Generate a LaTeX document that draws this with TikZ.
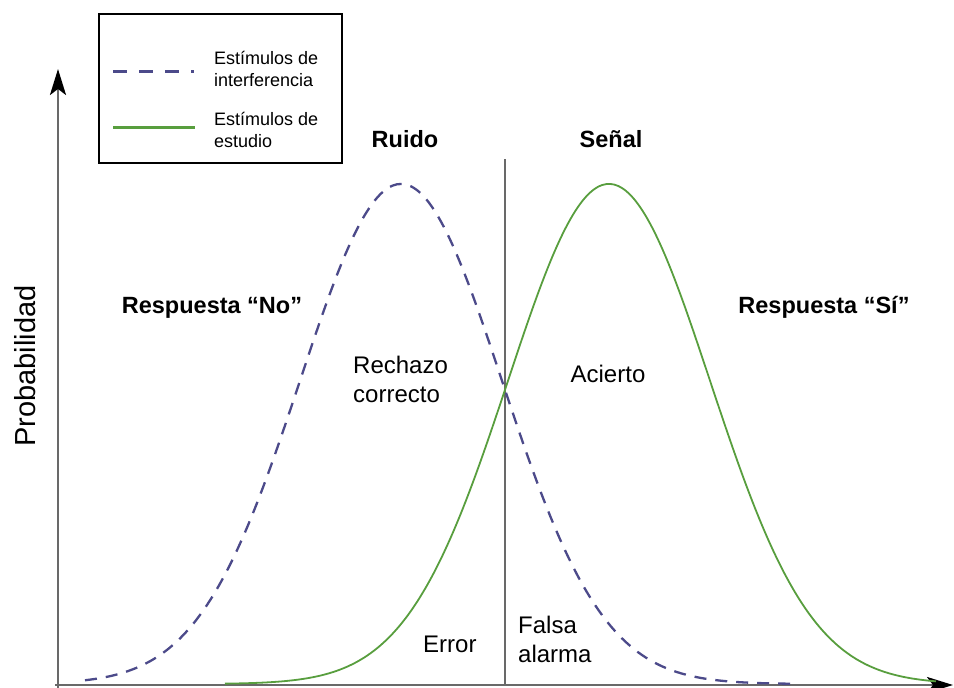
\documentclass[tikz,border=0pt]{standalone}
\usepackage{fontspec}
\setmainfont{Liberation Sans}
\usetikzlibrary{arrows.meta}
\definecolor{noiseblue}{RGB}{76,74,138}
\definecolor{signalgreen}{RGB}{88,158,62}
\definecolor{axisgray}{RGB}{105,105,105}
\tikzset{
  axisline/.style={draw=axisgray, line width=2.6pt, -{Stealth[length=26pt,width=16pt,inset=6pt,color=black]}},
  divider/.style={draw=axisgray, line width=2.2pt},
  noisecurve/.style={draw=noiseblue, line width=2.3pt, dash pattern=on 12pt off 9pt},
  signalcurve/.style={draw=signalgreen, line width=1.8pt},
  boldlabel/.style={font=\fontsize{23.5}{28}\selectfont\bfseries, inner sep=0pt},
  plainlabel/.style={font=\fontsize{24}{29}\selectfont, inner sep=0pt, align=left},
  legendtext/.style={font=\fontsize{18}{21.5}\selectfont, inner sep=0pt, align=left},
}
\begin{document}
\begin{tikzpicture}[x=1pt,y=-1pt]
\useasboundingbox (0,0) rectangle (954,688);
% legend
\node[draw=black, line width=2pt, minimum width=243pt, minimum height=149pt, anchor=north west, inner sep=0pt] (legend) at (98,13) {};
\coordinate (ln1a) at (113,71);
\coordinate (ln1b) at (194,71);
\coordinate (ln2a) at (113,127);
\coordinate (ln2b) at (195,127);
\draw[noiseblue, line width=3pt, dash pattern=on 14pt off 12pt] (ln1a) -- (ln1b);
\draw[signalgreen, line width=3pt] (ln2a) -- (ln2b);
\node[legendtext, anchor=base west] (leg1) at (214,86) {Estímulos de\\interferencia};
\node[legendtext, anchor=base west] (leg2) at (214,147) {Estímulos de\\estudio};
% axes
\coordinate (yaxb) at (58,688);
\coordinate (yaxt) at (58,69);
\coordinate (xaxl) at (55,685);
\coordinate (xaxr) at (953,685);
\draw[axisline] (yaxb) -- (yaxt);
\draw[axisline] (xaxl) -- (xaxr);
% criterion
\coordinate (crtop) at (505,159);
\coordinate (crbot) at (505,685);
\draw[divider] (crtop) -- (crbot);
% curves
\draw[noisecurve] plot[domain=85:792, samples=180, smooth] (\x, {684-500*exp(-0.5*((\x-401)/101)^2)});
\draw[signalcurve] plot[domain=225:936, samples=180, smooth] (\x, {684-500*exp(-0.5*((\x-609)/101)^2)});
% labels
\node[boldlabel, anchor=base] (ruido) at (405,147) {Ruido};
\node[boldlabel, anchor=base] (senal) at (611,147) {Señal};
\node[boldlabel, anchor=base] (respno) at (212,313) {Respuesta “No”};
\node[boldlabel, anchor=base] (respsi) at (824,313) {Respuesta “Sí”};
\node[plainlabel, anchor=base west] (rechazo) at (353,402) {Rechazo\\correcto};
\node[plainlabel, anchor=base] (acierto) at (608,382) {Acierto};
\node[plainlabel, anchor=base west] (error) at (423,652) {Error};
\node[plainlabel, anchor=base west] (falsa) at (518,662) {Falsa\\alarma};
\node[font=\fontsize{29}{34}\selectfont, inner sep=0pt, rotate=90, anchor=base] (prob) at (35,366) {Probabilidad};
\end{tikzpicture}
\end{document}
